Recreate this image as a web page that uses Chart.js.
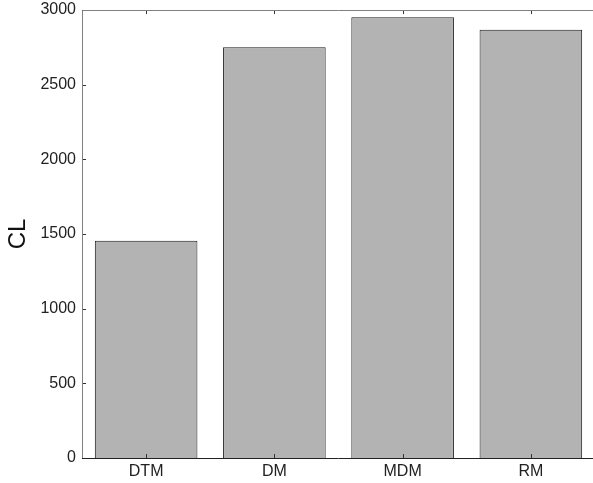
<!DOCTYPE html>
<html>
<head>
<meta charset="utf-8">
<script src="https://cdn.jsdelivr.net/npm/chart.js@4/dist/chart.umd.min.js"></script>
<style>
html,body{margin:0;padding:0;background:#fff;overflow:hidden;}
#wrap{width:593px;height:483px;overflow:hidden;}
canvas{display:block;}
</style>
</head>
<body>
<div id="wrap"><canvas id="c" width="600" height="483"></canvas></div>
<script>
const categories = ['DTM', 'DM', 'MDM', 'RM'];
const clValues = [1455, 2750, 2952, 2868];
const yTicks = [0, 500, 1000, 1500, 2000, 2500, 3000];
const yTitle = 'CL';

const boxPlugin = {
  id: 'box',
  afterDatasetsDraw(chart) {
    const ctx = chart.ctx, a = chart.chartArea;
    const xs = chart.scales.x, ys = chart.scales.y;
    ctx.save();
    ctx.lineWidth = 1;
    ctx.strokeStyle = '#333';
    ctx.beginPath();
    yTicks.forEach(v => {
      const y = Math.round(ys.getPixelForValue(v)) + 0.5;
      ctx.moveTo(a.left, y); ctx.lineTo(a.left + 4, y);
    });
    categories.forEach((c, i) => {
      const x = Math.round(xs.getPixelForValue(i)) + 0.5;
      ctx.moveTo(x, a.top); ctx.lineTo(x, a.top + 4);
      ctx.moveTo(x, a.bottom); ctx.lineTo(x, a.bottom - 4);
    });
    ctx.stroke();
    ctx.strokeStyle = '#808080';
    ctx.beginPath();
    ctx.moveTo(a.left + 0.5, a.bottom); ctx.lineTo(a.left + 0.5, a.top + 0.5);
    ctx.lineTo(a.right, a.top + 0.5);
    ctx.stroke();
    ctx.strokeStyle = '#222';
    ctx.beginPath();
    ctx.moveTo(a.left, a.bottom + 0.5); ctx.lineTo(a.right, a.bottom + 0.5);
    ctx.stroke();
    ctx.restore();
  }
};

new Chart(document.getElementById('c'), {
  type: 'bar',
  data: {
    labels: categories,
    datasets: [{
      data: clValues,
      backgroundColor: '#b3b3b3',
      borderColor: '#1a1a1a',
      borderWidth: 1,
      categoryPercentage: 0.8,
      barPercentage: 1.0
    }]
  },
  options: {
    responsive: false,
    animation: false,
    layout: { padding: { top: 10, right: 5, left: 0, bottom: 0 } },
    plugins: { legend: { display: false }, tooltip: { enabled: false } },
    scales: {
      x: {
        grid: { display: false, drawTicks: false },
        border: { display: false },
        ticks: { color: '#222', font: { family: 'Liberation Sans', size: 16 }, padding: 4, maxRotation: 0 },
        afterFit(s) { s.height = 25; s.paddingLeft = 0; s.paddingRight = 0; }
      },
      y: {
        min: 0, max: 3000,
        afterBuildTicks(s) { s.ticks = yTicks.map(v => ({ value: v })); },
        grid: { display: false, drawTicks: false },
        border: { display: false },
        ticks: { color: '#222', font: { family: 'Liberation Sans', size: 16 }, padding: 6, callback: v => String(v) },
        title: { display: true, text: yTitle, color: '#111', font: { family: 'Liberation Sans', size: 24 }, padding: { top: 4, bottom: 0 } },
        afterFit(s) { s.width = 82; s.paddingTop = 0; s.paddingBottom = 0; }
      }
    }
  },
  plugins: [boxPlugin]
});
</script>
</body>
</html>
